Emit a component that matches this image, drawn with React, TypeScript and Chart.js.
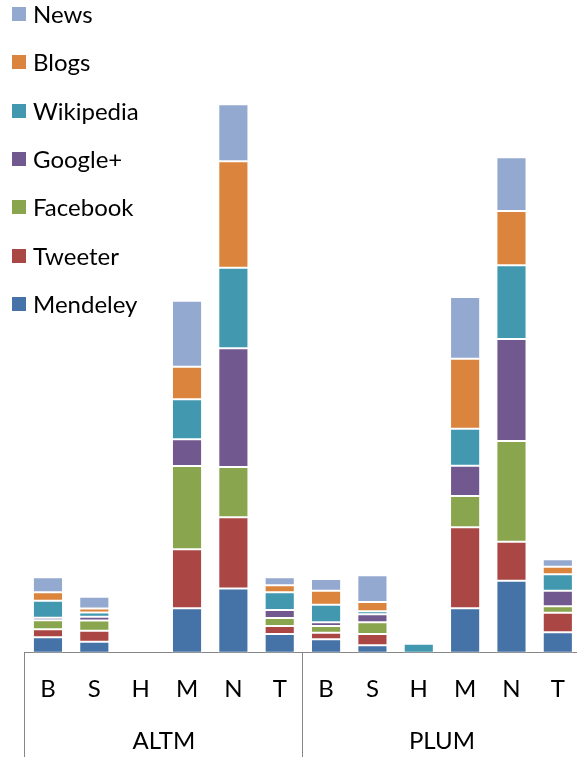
import React, { useEffect, useRef } from "react";
import { Chart, registerables } from "chart.js";

Chart.register(...registerables);

const categories = ["B", "S", "H", "M", "N", "T", "B", "S", "H", "M", "N", "T"];
const groups = ["ALTM", "PLUM"];

const mendeley = [15.4, 11, 0, 44.4, 64.2, 18.7, 13.4, 7.4, 0, 44.4, 72, 20.4];
const tweeter = [8, 11, 0, 59, 71.2, 8, 6.6, 11.3, 0, 81, 39, 19.6];
const facebook = [9, 10.3, 0, 83.3, 50.3, 8, 6.7, 11.7, 0, 31.3, 100.7, 6.4];
const googlePlus = [2.6, 3.7, 0, 26.7, 118.7, 8, 3.7, 8, 0, 30.3, 102, 15.6];
const wikipedia = [17, 4.3, 0, 40, 80.6, 17.7, 17.6, 3, 9, 37, 73.7, 16.4];
const blogs = [8.4, 4, 0, 32.6, 106.4, 7, 14, 9.3, 2, 70, 54.3, 7.6];
const news = [15, 11.7, 0, 66, 57, 8, 11.7, 26.7, 0, 61.7, 53.7, 7.4];

const seriesNames = ["Mendeley", "Tweeter", "Facebook", "Google+", "Wikipedia", "Blogs", "News"];
const seriesColors = ["#4572A7", "#AA4643", "#89A54E", "#71588F", "#4198AF", "#DB843D", "#93A9CF"];
const seriesData = [mendeley, tweeter, facebook, googlePlus, wikipedia, blogs, news];

const FONT = "Lato, 'Open Sans', sans-serif";
const AXIS_GRAY = "#868686";

const separatorPlugin = {
  id: "groupSeparators",
  afterDraw(chart: any) {
    const { ctx, chartArea, scales } = chart;
    const x = scales.x;
    const mid = (x.getPixelForValue(5) + x.getPixelForValue(6)) / 2;
    const xs = [chartArea.left, mid, chartArea.right];
    ctx.save();
    ctx.strokeStyle = AXIS_GRAY;
    ctx.lineWidth = 1;
    xs.forEach((px: number) => {
      const p = Math.round(px) - 0.5;
      ctx.beginPath();
      ctx.moveTo(p, chartArea.bottom);
      ctx.lineTo(p, chart.height);
      ctx.stroke();
    });
    ctx.restore();
  },
};

export default function App() {
  const canvasRef = useRef<HTMLCanvasElement | null>(null);

  useEffect(() => {
    if (!canvasRef.current) return;
    const chart = new Chart(canvasRef.current, {
      type: "bar",
      data: {
        labels: categories,
        datasets: seriesNames.map((name, i) => ({
          label: name,
          data: seriesData[i],
          backgroundColor: seriesColors[i],
          borderColor: "rgba(255,255,255,0.3)",
          borderWidth: 1,
          borderSkipped: false,
          barPercentage: 0.65,
          categoryPercentage: 1,
        })),
      },
      options: {
        responsive: false,
        animation: false,
        devicePixelRatio: 1,
        layout: { padding: { left: 24.8, right: 1, top: 52.7, bottom: 0 } },
        plugins: { legend: { display: false }, tooltip: { enabled: false } },
        scales: {
          x: {
            stacked: true,
            position: "bottom",
            grid: { display: false },
            border: { display: true, color: AXIS_GRAY, width: 1 },
            ticks: {
              color: "#000",
              font: { family: FONT, size: 24 },
              padding: 14,
              maxRotation: 0,
              autoSkip: false,
            },
            afterFit: (scale: any) => {
              scale.height = 52;
            },
          },
          x2: {
            type: "category",
            labels: groups,
            position: "bottom",
            offset: true,
            grid: { display: false },
            border: { display: false },
            ticks: {
              color: "#000",
              font: { family: FONT, size: 24 },
              padding: 14,
              maxRotation: 0,
            },
            afterFit: (scale: any) => {
              scale.height = 52.3;
            },
          },
          y: {
            stacked: true,
            display: false,
            min: 0,
            max: 600,
          },
        },
      },
      plugins: [separatorPlugin],
    });
    return () => chart.destroy();
  }, []);

  const legendItems = seriesNames.map((n, i) => ({ name: n, color: seriesColors[i] })).reverse();

  return (
    <div
      style={{
        position: "fixed",
        left: 0,
        top: 0,
        width: 577,
        height: 757,
        overflow: "hidden",
        background: "#fff",
      }}
    >
      <canvas
        ref={canvasRef}
        width={582}
        height={757}
        style={{ position: "absolute", left: 0, top: 0, width: 582, height: 757 }}
      />
      {legendItems.map((item, i) => (
        <div
          key={item.name}
          style={{
            position: "absolute",
            left: 12,
            top: 2 + i * 48.3,
            height: 24,
            display: "flex",
            alignItems: "center",
            fontFamily: FONT,
            fontSize: 24,
            lineHeight: "24px",
            color: "#000",
            whiteSpace: "nowrap",
          }}
        >
          <span
            style={{
              display: "inline-block",
              width: 14,
              height: 14,
              background: item.color,
              marginRight: 7,
            }}
          />
          <span>{item.name}</span>
        </div>
      ))}
    </div>
  );
}
